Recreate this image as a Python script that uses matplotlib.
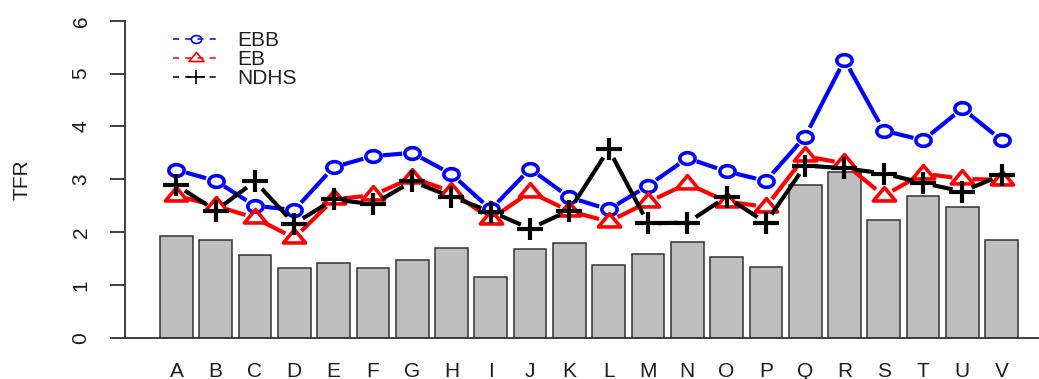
# encoding: UTF-8
import numpy as np
import matplotlib
matplotlib.use('Agg')
import matplotlib.pyplot as plt
from matplotlib.path import Path
from matplotlib.lines import Line2D
from matplotlib.collections import LineCollection

# -----------------------------------------------------------------------------
regions = ['A', 'B', 'C', 'D', 'E', 'F', 'G', 'H', 'I', 'J', 'K',
           'L', 'M', 'N', 'O', 'P', 'Q', 'R', 'S', 'T', 'U', 'V']
bar_values = [1.93, 1.85, 1.56, 1.32, 1.42, 1.32, 1.47, 1.71, 1.16, 1.69, 1.79,
              1.38, 1.58, 1.82, 1.53, 1.34, 2.89, 3.13, 2.24, 2.69, 2.48, 1.85]
ebb = [3.18, 2.97, 2.50, 2.42, 3.23, 3.44, 3.50, 3.10, 2.43, 3.20, 2.66,
       2.43, 2.88, 3.40, 3.15, 2.97, 3.81, 5.26, 3.92, 3.74, 4.34, 3.74]
eb = [2.69, 2.50, 2.27, 1.89, 2.62, 2.70, 3.03, 2.77, 2.25, 2.76, 2.40,
      2.20, 2.57, 2.92, 2.58, 2.48, 3.44, 3.30, 2.69, 3.11, 3.01, 2.99]
ndhs = [2.89, 2.41, 2.96, 2.16, 2.62, 2.53, 2.96, 2.67, 2.39, 2.07, 2.41,
        3.57, 2.17, 2.18, 2.67, 2.18, 3.26, 3.21, 3.11, 2.93, 2.77, 3.08]
y_ticks = [0, 1, 2, 3, 4, 5, 6]

# R-ish symbols, a bit wider than tall
t = np.linspace(0, 2 * np.pi, 60)
circle = Path(np.column_stack([np.cos(t), 0.76 * np.sin(t)]))
triangle = Path([(0, 0.4), (0.5, -0.2), (-0.5, -0.2), (0, 0.4)],
                [Path.MOVETO, Path.LINETO, Path.LINETO, Path.CLOSEPOLY])
plus = Path([(-0.5, 0), (0.5, 0), (0, -0.39), (0, 0.39)],
            [Path.MOVETO, Path.LINETO, Path.MOVETO, Path.LINETO])

axis_col = '#333333'
text_col = '#1e1e1e'


def gapped(ax, x, y, gap):
    # line pieces that stop short of each point, like type="b"
    pts = ax.transData.transform(np.column_stack([x, y]))
    inv = ax.transData.inverted()
    segs = []
    for p0, p1 in zip(pts[:-1], pts[1:]):
        d = p1 - p0
        L = np.hypot(d[0], d[1])
        if L <= 2 * gap:
            continue
        u = d / L
        segs.append(inv.transform([p0 + u * gap, p1 - u * gap]))
    return segs


def tfr_plot():
    plt.rcParams['font.family'] = ['Liberation Sans', 'DejaVu Sans']
    fig = plt.figure(figsize=(10.39, 3.79), dpi=100)
    ax = fig.add_axes([0.1203, 0.1082, 0.8797, 0.8372])
    x = np.arange(len(regions))
    ax.set_xlim(-1.308, 21.95)
    ax.set_ylim(0, 6)

    ax.bar(x, bar_values, width=0.833, color='#bebebe', edgecolor=axis_col,
           linewidth=1.1, zorder=1)

    series = [(ebb, 'blue', circle, 11.0, 2.6, 'EBB'),
              (eb, 'red', triangle, 16.0, 2.6, 'EB'),
              (ndhs, 'black', plus, 19.4, 3.0, 'NDHS')]
    handles = []
    for k, (vals, col, mk, ms, mew, lab) in enumerate(series):
        lc = LineCollection(gapped(ax, x, vals, 10), colors=col, linewidths=3.0,
                            capstyle='butt', zorder=2 + k)
        ax.add_collection(lc)
        ax.plot(x, vals, ls='none', marker=mk, ms=ms, mew=mew, mfc='none',
                mec=col, zorder=2.5 + k)
        handles.append(Line2D([], [], color=col, lw=1.1, ls=(0, (4, 4)),
                              marker=mk, ms=ms * 0.68, mew=1.2, mfc='none',
                              mec=col, label=lab))

    leg = ax.legend(handles=handles, loc='upper left',
                    bbox_to_anchor=(0.0525, 0.968), frameon=False, fontsize=15,
                    handlelength=2.2, handletextpad=0.9, labelspacing=0.0,
                    borderpad=0, borderaxespad=0, numpoints=1)
    for txt in leg.get_texts():
        txt.set_color(text_col)

    for s in ['top', 'right']:
        ax.spines[s].set_visible(False)
    for s in ['left', 'bottom']:
        ax.spines[s].set_color(axis_col)
        ax.spines[s].set_linewidth(1.3)

    ax.set_yticks(y_ticks)
    ax.set_yticklabels([str(v) for v in y_ticks], rotation=90, va='center')
    ax.tick_params(axis='y', length=10.8, width=1.3, color=axis_col, pad=14,
                   labelsize=15, labelcolor=text_col)
    ax.set_xticks(x)
    ax.set_xticklabels(regions)
    ax.tick_params(axis='x', length=0, pad=17, labelsize=15, labelcolor=text_col)

    ax.set_ylabel('TFR', fontsize=15, color=text_col)
    ax.yaxis.set_label_coords(-0.102, 0.5)

    fig.savefig('out.png', dpi=100)


# -----------------------------------------------------------------------------
if __name__ == '__main__':
    tfr_plot()
